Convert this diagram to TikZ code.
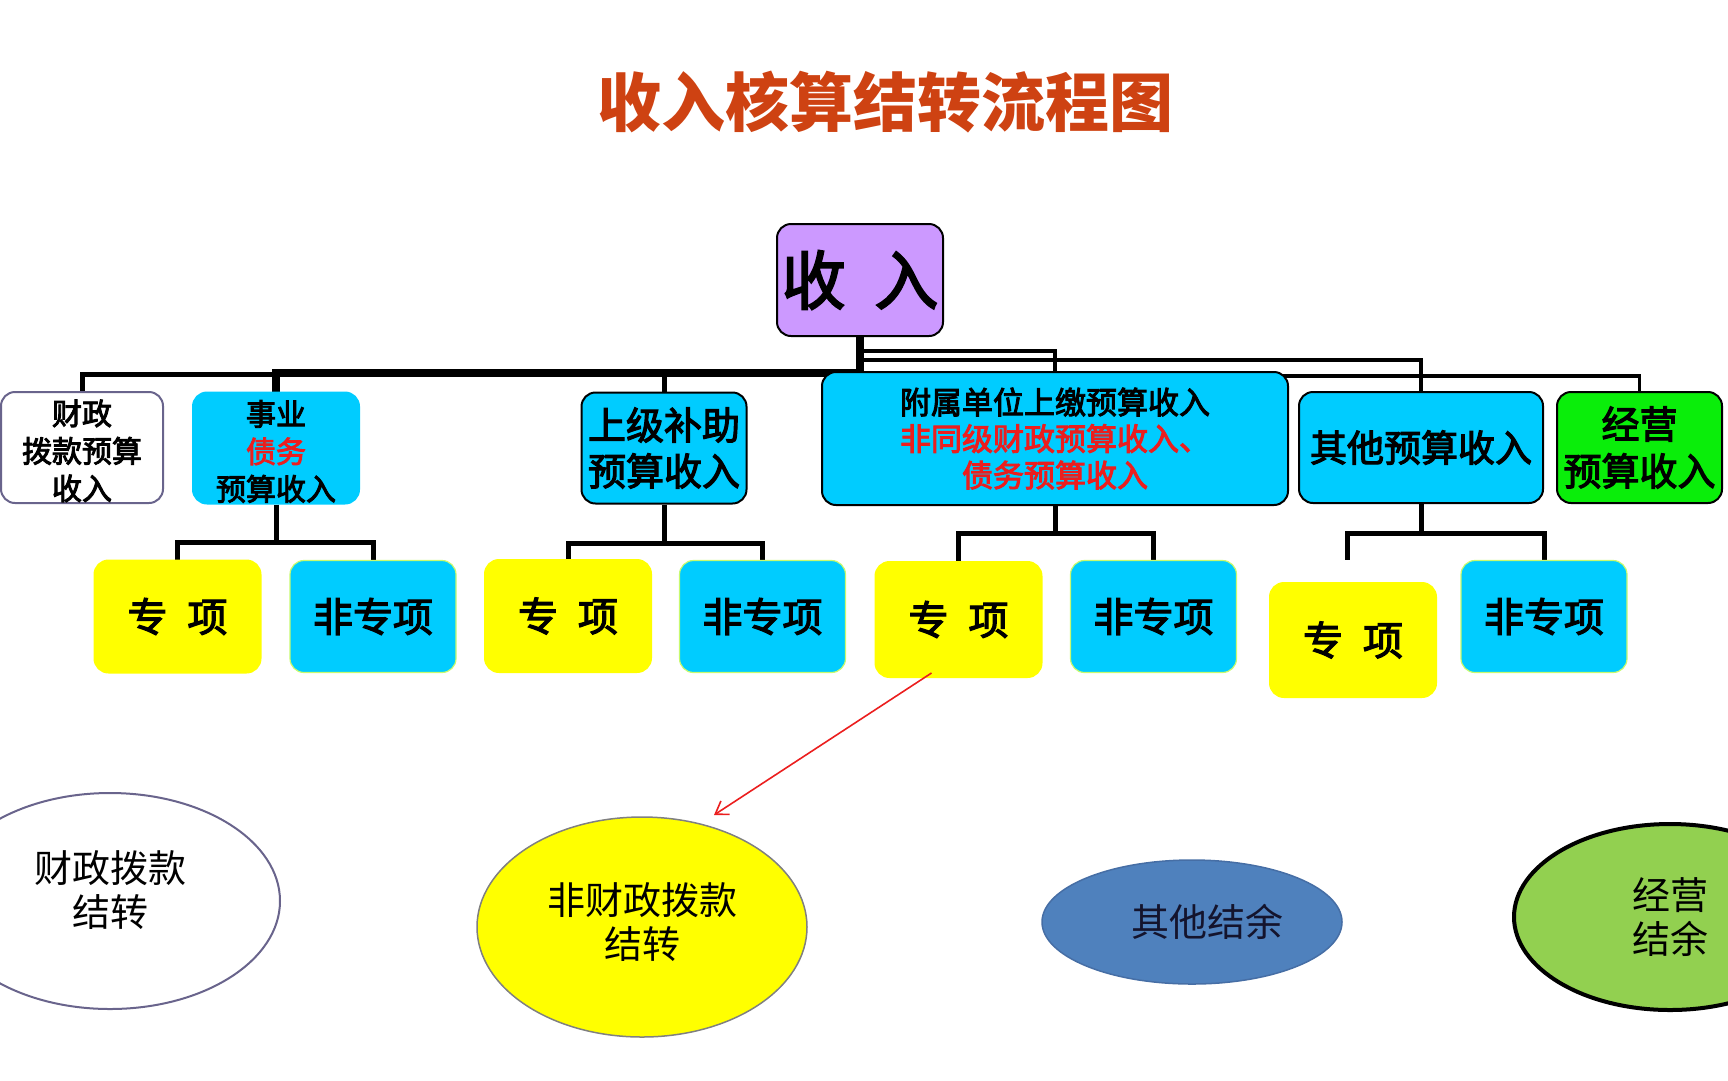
\documentclass[tikz,border=0pt]{standalone}
\usepackage{fontspec}
\newfontfamily\cjk{Noto Sans CJK SC}
\newfontfamily\cjkm[FakeBold=3]{Noto Sans CJK SC}
\usetikzlibrary{shapes.geometric,arrows.meta,backgrounds}
\definecolor{titlec}{RGB}{206,66,18}
\definecolor{purpleb}{RGB}{204,153,255}
\definecolor{cyanb}{RGB}{0,204,255}
\definecolor{yellowb}{RGB}{255,255,0}
\definecolor{greenb}{RGB}{10,238,10}
\definecolor{redt}{RGB}{235,30,30}
\definecolor{grayb}{RGB}{105,100,140}
\definecolor{blueell}{RGB}{79,129,189}
\definecolor{blueedge}{RGB}{70,110,165}
\definecolor{greenell}{RGB}{146,208,80}
\definecolor{limeedge}{RGB}{200,250,110}
\newcommand\myfs[2]{\fontsize{#1}{#2}\selectfont}
\begin{document}
\begin{tikzpicture}[x=1pt,y=-1pt,
  box/.style={rounded corners=14pt, inner sep=0pt, align=center, font=\cjkm, line width=2pt},
  topbox/.style={box, minimum height=111pt},
  lowbox/.style={box, minimum width=166pt, minimum height=112pt, font=\cjkm\myfs{40}{46}},
  yel/.style={lowbox, fill=yellowb, draw=yellowb},
  cyn/.style={lowbox, fill=cyanb, draw=limeedge, line width=1.2pt},
  ell/.style={ellipse, inner sep=0pt, align=center, font=\cjk\myfs{38}{44}},
  conn/.style={line width=5pt},
  thinc/.style={line width=3.5pt},
  thickc/.style={line width=8pt},
  redarr/.style={draw=redt, line width=1.6pt, -{Straight Barb[length=12pt,width=16pt]}}
]
\useasboundingbox (0,0) rectangle (1728,1080);
\clip (0,0) rectangle (1728,1080);

% title
\node[font=\cjk\bfseries\myfs{64}{70}, text=titlec] (title) at (885,102) {收入核算结转流程图};

% root
\node[box, fill=purpleb, draw=black, minimum width=166pt, minimum height=112pt, font=\cjkm\myfs{64}{70}] (root) at (860,280) {收\hspace{0.45em}入};

% second level
\node[topbox, fill=white, draw=grayb, minimum width=162pt, font=\cjkm\myfs{30}{37.5}] (b1) at (82,447.5) {\rule{0pt}{32pt}财政\\拨款预算\\收入};
\node[topbox, fill=cyanb, draw=cyanb, minimum width=166pt, font=\cjkm\myfs{30}{37.5}] (b2) at (276,448) {\rule{0pt}{32pt}事业\\{\color{redt}债务}\\预算收入};
\node[topbox, fill=cyanb, draw=black, minimum width=165pt, font=\cjkm\myfs{38}{46}] (b3) at (664,448) {上级补助\\预算收入};
\node[box, fill=cyanb, draw=black, minimum width=466pt, minimum height=133pt, font=\cjkm\myfs{31}{36.5}] (b4) at (1055,438.5) {附属单位上缴预算收入\\{\color{redt}非同级财政预算收入、}\\{\color{redt}债务预算收入}};
\node[topbox, fill=cyanb, draw=black, minimum width=244pt, font=\cjkm\myfs{37}{46}] (b5) at (1421,447.5) {其他预算收入};
\node[topbox, fill=greenb, draw=black, minimum width=165pt, font=\cjkm\myfs{38}{47}] (b6) at (1639.5,447.5) {经营\\预算收入};

% third level
\node[yel] (s1) at (177.5,616.5) {专\hspace{0.5em}项};
\node[cyn] (n1) at (373,616.5) {非专项};
\node[yel] (s2) at (568,616) {专\hspace{0.5em}项};
\node[cyn] (n2) at (762.5,616.5) {非专项};
\node[yel, minimum height=115pt] (s3) at (958.5,619.5) {专\hspace{0.5em}项};
\node[cyn] (n3) at (1153.5,616.5) {非专项};
\node[yel, minimum height=114pt] (s4) at (1353,640) {专\hspace{0.5em}项};
\node[cyn] (n4) at (1544,616.5) {非专项};
\coordinate (s4c) at (1347,560);

% ellipses
\node[ell, draw=grayb, line width=2pt, fill=white, minimum width=340pt, minimum height=216pt] (e1) at (110,901) {财政拨款\\结转\rule[-24pt]{0pt}{1pt}};
\node[ell, draw=gray, line width=1.5pt, fill=yellowb, minimum width=330pt, minimum height=220pt] (e2) at (642,927) {非财政拨款\\结转\rule[-12pt]{0pt}{1pt}};
\node[ell, draw=blueedge, line width=1.5pt, fill=blueell, text={rgb,255:red,20;green,20;blue,45}, minimum width=300pt, minimum height=124pt] (e3) at (1192,922) {\hspace{30pt}其他结余};
\node[ell, draw=black, line width=4pt, fill=greenell, minimum width=312pt, minimum height=186pt] (e4) at (1670,917) {经营\\结余\hspace{12pt}};

% connectors
\begin{scope}[on background layer]
  \draw[thinc] (root.south) |- ([yshift=20pt]b4.north) -- (b4.north);
  \draw[thinc] (root.south) |- ([yshift=31pt]b5.north) -- (b5.north);
  \draw[thinc] (root.south) |- ([yshift=15pt]b6.north) -- (b6.north);
  \draw[conn] (root.south) |- ([yshift=17pt]b1.north) -- (b1.north);
  \draw[conn] (root.south) |- ([yshift=19pt]b3.north) -- (b3.north);
  \draw[thickc] (root.south) |- ([yshift=19pt]b2.north) -- (b2.north);
  \draw[conn] (root.south) -- ++(0,-40pt);

  \draw[conn] (b2.south) -- ++(0,-38pt) -| (s1.north);
  \draw[conn] (b2.south) -- ++(0,-38pt) -| (n1.north);
  \draw[conn] (b3.south) -- ++(0,-39pt) -| (s2.north);
  \draw[conn] (b3.south) -- ++(0,-39pt) -| (n2.north);
  \draw[conn] (b4.south) -- ++(0,-27pt) -| (s3.north);
  \draw[conn] (b4.south) -- ++(0,-27pt) -| (n3.north);
  \draw[conn] (b5.south) -- ++(0,-29pt) -| (s4c);
  \draw[conn] (b5.south) -- ++(0,-29pt) -| (n4.north);
\end{scope}

% red arrow
\draw[redarr] ([xshift=-27pt,yshift=5pt]s3.south) -- ([shift={(72pt,112pt)}]e2.center);
\end{tikzpicture}
\end{document}
